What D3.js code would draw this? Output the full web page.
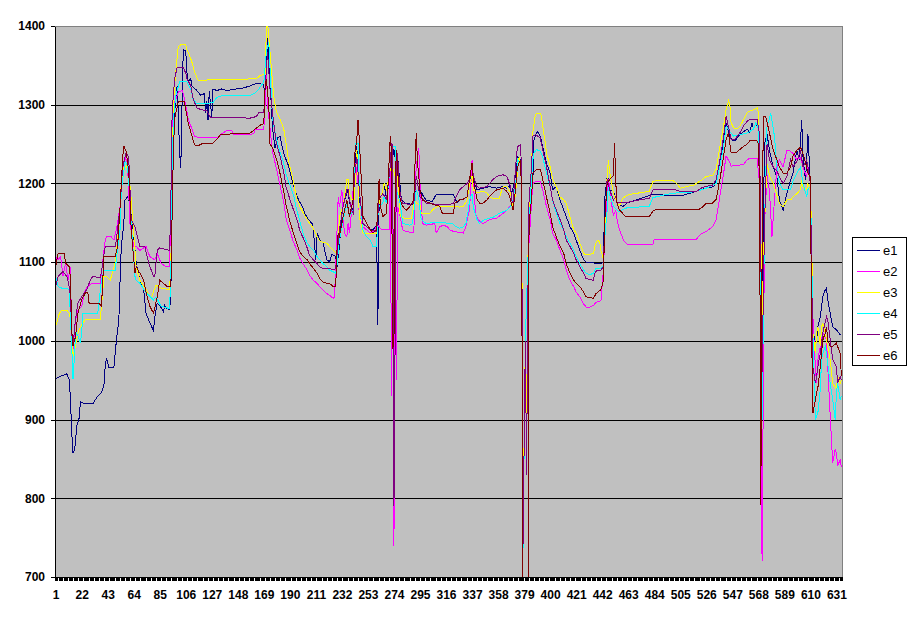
<!DOCTYPE html>
<html>
<head>
<meta charset="utf-8">
<script src="https://cdn.jsdelivr.net/npm/d3@7"></script>
<style>
  body { margin: 0; background: #fff; }
  svg { display: block; font-family: "Liberation Sans", Arial, sans-serif; }
</style>
</head>
<body>
<svg id="chart" width="911" height="623"></svg>
<script>
// category count and tick labels
const categoryCount = 635;
const xLabels = [1, 22, 43, 64, 85, 106, 127, 148, 169, 190, 211, 232, 253, 274, 295, 316,
  337, 358, 379, 400, 421, 442, 463, 484, 505, 526, 547, 568, 589, 610, 631];
const yTicks = [700, 800, 900, 1000, 1100, 1200, 1300, 1400];
const seriesNames = ['e1', 'e2', 'e3', 'e4', 'e5', 'e6'];

// readings: [category, value]
const e1 = [[1,952],[5,955],[10,958],[12,951],[13,925],[14,883],[15,858],[16,860],[17,870],[18,892],[20,902],[21,923],[24,920],[31,920],[33,925],[35,930],[38,934],[40,944],[41,968],[42,978],[44,966],[48,966],[50,1000],[52,1026],[53,1077],[54,1120],[56,1149],[57,1179],[59,1183],[60,1179],[61,1170],[63,1150],[66,1099],[69,1077],[72,1065],[74,1035],[77,1023],[80,1013],[81,1030],[83,1048],[85,1045],[88,1037],[89,1045],[91,1041],[93,1040],
  [94,1060],[95,1200],[97,1290],[99,1324],[100,1290],[101,1240],[102,1220],[103,1300],[104,1370],[106,1368],[107,1340],[108,1329],[110,1333],[111,1324],[115,1318],[118,1312],[121,1314],[122,1290],[123,1305],[124,1280],[125,1318],[126,1300],[127,1285],[128,1320],[131,1318],[135,1320],[139,1318],[147,1320],[152,1321],[158,1324],[163,1327],[166,1327],[169,1325],[170,1299],[171,1337],[172,1385],[174,1330],[176,1270],[178,1245],[180,1258],[182,1260],[184,1245],[186,1234],[189,1222],[191,1209],[194,1192],[197,1179],[200,1171],[202,1162],[205,1154],[208,1149],[209,1141],[210,1120],[211,1103],[212,1137],[214,1128],[217,1124],[218,1115],[220,1103],[222,1100],
  [224,1110],[227,1107],[228,1094],[230,1120],[232,1166],[235,1183],[237,1192],[238,1175],[240,1170],[241,1162],[242,1209],[243,1234],[244,1247],[245,1215],[246,1179],[249,1158],[252,1149],[255,1141],[257,1141],[259,1145],[260,1137],[261,1020],[262,1175],[265,1192],[266,1200],[268,1180],[269,1190],[271,1222],[272,1243],[273,1234],[274,1243],[276,1222],[277,1234],[279,1196],[280,1179],[283,1175],[290,1173],[292,1192],[294,1183],[295,1192],[298,1183],[300,1179],[305,1177],[308,1186],[322,1186],[325,1175],[327,1179],[330,1180],[333,1183],[335,1200],[337,1217],[339,1200],[341,1192],[346,1194],[351,1196],[357,1194],[362,1196],[365,1194],[367,1197],[369,1188],[371,1200],[373,1222],[374,1234],[376,1230],[377,1200],[378,730],[380,1000],[382,1100],[384,1150],[386,1200],[387,1256],[389,1264],[390,1266],[392,1260],[394,1247],[397,1226],[400,1213],[402,1192],[405,1196],[408,1179],[411,1166],[413,1158],[416,1145],[419,1137],[421,1128],[424,1115],[427,1103],[429,1100],[441,1098],[443,1100],[444,1180],[446,1209],[447,1205],[448,1192],[451,1190],[454,1175],[456,1172],[459,1171],[462,1175],[483,1186],[505,1184],[518,1190],[526,1194],[532,1196],[534,1203],[537,1226],[540,1252],[542,1277],[545,1260],[547,1254],[549,1254],[553,1262],[559,1269],[561,1265],[563,1277],[564,1269],[566,1277],[568,1269],[569,1200],[571,930],[572,1150],[573,1250],[575,1263],[577,1242],[580,1221],[583,1208],[585,1179],[588,1166],[591,1187],[594,1204],[596,1213],[599,1242],[601,1230],[603,1280],[604,1234],[606,1204],[607,1230],[608,1263],[610,1200],[611,1077],[612,1018],[614,993],[615,1001],[616,1018],[618,1031],[619,1044],[620,1056],[622,1065],[623,1067],[624,1052],[626,1035],[628,1018],[631,1014],[634,1008],[635,1008]];

const e2 = [[1,1107],[3,1103],[5,1107],[7,1082],[9,1099],[11,1077],[13,1094],[14,997],[15,989],[17,1027],[19,1039],[22,1044],[25,1065],[27,1069],[30,1073],[37,1073],[40,1115],[41,1128],[42,1132],[46,1132],[48,1128],[50,1141],[53,1170],[54,1200],[57,1234],[59,1225],[61,1149],[64,1120],[66,1120],[69,1115],[74,1120],[77,1107],[81,1103],[83,1111],[86,1099],[90,1094],[93,1094],[94,1180],[95,1270],[97,1303],[100,1316],[103,1318],[104,1314],[106,1299],[108,1282],[111,1269],[113,1260],[117,1258],[131,1258],[136,1264],[139,1267],[143,1267],[145,1262],[158,1262],[161,1264],[162,1269],[169,1269],[170,1300],[171,1346],[172,1300],[174,1270],[176,1240],[179,1220],[182,1198],[185,1177],[187,1155],[190,1140],[193,1125],[196,1115],[198,1105],[201,1097],[204,1090],[206,1083],[209,1077],[212,1073],[214,1069],[217,1064],[220,1060],[222,1058],[225,1054],[226,1056],[227,1094],[228,1137],[229,1183],[230,1170],[232,1192],[233,1158],[234,1137],[236,1132],[237,1150],[238,1137],[239,1150],[241,1192],[243,1226],[245,1200],[246,1158],[249,1145],[252,1141],[255,1137],[259,1140],[260,1150],[262,1145],[264,1141],[270,1141],[271,1234],[272,930],[273,1200],[274,740],[275,1180],[276,950],[277,1170],[279,1158],[281,1141],[284,1139],[290,1137],[291,1192],[292,1222],[294,1245],[295,1200],[297,1149],[300,1147],[307,1149],[308,1137],[311,1145],[314,1147],[317,1145],[319,1141],[322,1139],[330,1137],[332,1145],[334,1160],[335,1166],[337,1230],[338,1200],[340,1160],[343,1152],[346,1149],[349,1152],[351,1154],[357,1156],[362,1162],[365,1166],[370,1175],[371,1190],[373,1209],[374,1222],[376,1230],[377,1210],[378,740],[380,1000],[382,1100],[384,1150],[386,1200],[389,1203],[392,1202],[394,1192],[397,1171],[400,1154],[402,1137],[405,1128],[408,1115],[411,1103],[413,1090],[416,1077],[419,1069],[421,1062],[424,1056],[427,1047],[429,1043],[432,1043],[435,1045],[437,1049],[441,1051],[443,1090],[444,1130],[446,1188],[447,1205],[448,1196],[449,1180],[451,1160],[453,1166],[454,1154],[456,1141],[458,1133],[459,1128],[462,1123],[483,1123],[484,1129],[518,1129],[521,1135],[526,1139],[531,1145],[534,1154],[537,1184],[540,1213],[542,1235],[545,1226],[546,1222],[556,1224],[559,1230],[561,1232],[567,1232],[569,1200],[571,720],[573,1150],[575,1210],[577,1190],[579,1132],[581,1179],[583,1221],[585,1230],[588,1221],[591,1242],[593,1242],[596,1238],[599,1230],[602,1233],[604,1221],[607,1208],[608,1221],[610,1200],[611,1115],[612,1031],[614,967],[615,946],[616,976],[618,993],[620,1010],[623,1001],[624,967],[626,904],[627,874],[628,845],[630,862],[631,858],[632,841],[634,849],[635,840]];

const e3 = [[1,1018],[4,1035],[6,1039],[10,1039],[12,1035],[13,1027],[15,980],[17,993],[19,1010],[21,1018],[25,1027],[37,1027],[38,1044],[40,1082],[42,1082],[45,1077],[46,1082],[49,1099],[50,1111],[53,1162],[54,1204],[56,1220],[58,1222],[60,1215],[62,1180],[66,1094],[69,1077],[74,1065],[78,1054],[82,1071],[84,1069],[86,1067],[93,1065],[94,1100],[95,1200],[96,1300],[97,1324],[99,1359],[100,1374],[103,1377],[106,1376],[107,1370],[109,1363],[111,1354],[113,1342],[116,1331],[134,1332],[144,1332],[163,1333],[166,1337],[170,1339],[171,1393],[172,1405],[174,1367],[177,1310],[179,1292],[182,1282],[185,1270],[187,1250],[189,1228],[192,1209],[194,1192],[196,1179],[198,1171],[201,1162],[204,1154],[206,1149],[209,1143],[212,1132],[214,1127],[217,1125],[220,1124],[222,1120],[225,1115],[228,1110],[229,1130],[230,1158],[233,1171],[236,1205],[237,1205],[238,1187],[240,1180],[242,1180],[244,1243],[245,1210],[246,1158],[248,1145],[249,1137],[260,1137],[261,1160],[262,1175],[265,1192],[266,1200],[268,1192],[271,1217],[272,1234],[273,1220],[275,1209],[276,1222],[279,1158],[282,1156],[288,1156],[290,1171],[291,1184],[292,1175],[295,1173],[296,1162],[303,1162],[306,1168],[310,1171],[327,1170],[330,1171],[333,1179],[335,1200],[337,1209],[338,1192],[341,1188],[346,1190],[349,1188],[351,1183],[354,1181],[359,1181],[361,1192],[362,1196],[365,1196],[368,1188],[370,1171],[372,1185],[374,1222],[375,1234],[377,1220],[378,745],[380,1000],[381,880],[382,1100],[383,1158],[385,1222],[386,1264],[388,1286],[389,1289],[392,1289],[393,1285],[394,1273],[396,1252],[397,1239],[400,1222],[402,1205],[405,1196],[408,1183],[411,1179],[413,1175],[416,1158],[419,1141],[421,1137],[424,1124],[427,1111],[429,1109],[435,1111],[436,1120],[438,1128],[440,1126],[441,1115],[443,1103],[444,1140],[446,1209],[447,1230],[448,1215],[451,1188],[454,1175],[456,1172],[459,1182],[464,1186],[472,1188],[480,1190],[483,1203],[499,1204],[502,1200],[505,1194],[510,1196],[516,1198],[518,1200],[523,1205],[526,1209],[531,1210],[534,1218],[537,1247],[540,1273],[542,1294],[544,1305],[545,1300],[546,1277],[548,1271],[550,1269],[553,1272],[556,1281],[559,1290],[561,1292],[565,1294],[567,1296],[568,1290],[569,1247],[571,1030],[573,1150],[575,1225],[577,1210],[580,1200],[582,1190],[585,1175],[588,1170],[591,1179],[594,1179],[596,1183],[599,1187],[602,1192],[603,1204],[604,1196],[607,1192],[608,1200],[610,1192],[611,1137],[612,1010],[614,984],[615,1010],[616,1018],[618,993],[619,1018],[620,1022],[622,1010],[623,1001],[626,976],[628,946],[631,938],[632,955],[634,946],[635,950]];

const e4 = [[1,1082],[3,1069],[6,1067],[10,1067],[12,1065],[13,1030],[14,993],[15,951],[16,976],[17,1006],[18,1010],[19,1006],[21,997],[22,1010],[23,1035],[35,1035],[38,1077],[40,1090],[49,1090],[50,1103],[53,1141],[54,1192],[56,1215],[57,1228],[59,1222],[61,1180],[62,1149],[65,1082],[66,1077],[69,1073],[74,1061],[80,1052],[82,1056],[86,1044],[93,1041],[94,1090],[95,1200],[96,1282],[98,1312],[101,1329],[107,1329],[110,1320],[112,1307],[115,1301],[123,1301],[128,1303],[131,1309],[136,1312],[158,1312],[162,1315],[165,1320],[169,1329],[171,1367],[173,1380],[174,1346],[176,1282],[179,1258],[182,1240],[185,1226],[187,1211],[190,1198],[193,1185],[195,1170],[198,1152],[201,1135],[204,1124],[206,1120],[209,1115],[212,1107],[214,1103],[217,1098],[220,1094],[222,1090],[227,1086],[228,1096],[230,1128],[233,1154],[236,1175],[238,1158],[241,1166],[242,1226],[243,1251],[245,1251],[246,1192],[248,1158],[249,1141],[252,1132],[255,1128],[257,1120],[260,1120],[261,1158],[262,1171],[265,1175],[266,1183],[268,1175],[271,1222],[273,1247],[275,1247],[276,1192],[279,1175],[281,1149],[287,1147],[289,1149],[292,1192],[294,1183],[295,1166],[296,1154],[300,1149],[308,1151],[321,1149],[324,1145],[327,1143],[330,1145],[332,1149],[334,1166],[335,1179],[337,1187],[338,1170],[341,1154],[343,1149],[346,1153],[351,1156],[354,1157],[359,1162],[362,1164],[365,1166],[368,1171],[370,1179],[373,1209],[374,1230],[376,1225],[377,1200],[378,720],[380,1000],[382,1100],[384,1180],[386,1230],[387,1239],[389,1243],[392,1241],[394,1234],[397,1213],[400,1196],[402,1179],[405,1162],[408,1149],[411,1141],[413,1132],[416,1124],[419,1115],[421,1107],[424,1098],[427,1090],[429,1086],[432,1084],[435,1086],[437,1092],[441,1092],[443,1096],[444,1130],[446,1166],[447,1200],[448,1185],[451,1171],[454,1166],[456,1164],[459,1167],[462,1169],[480,1171],[483,1182],[494,1186],[502,1188],[510,1188],[518,1190],[526,1194],[534,1200],[537,1222],[540,1247],[542,1273],[545,1266],[548,1260],[553,1262],[559,1264],[564,1269],[566,1277],[568,1270],[569,1230],[571,900],[573,1150],[575,1272],[578,1289],[581,1260],[583,1221],[585,1200],[588,1192],[594,1192],[596,1203],[599,1213],[602,1221],[604,1200],[607,1183],[608,1192],[610,1196],[611,1115],[612,1010],[614,900],[615,904],[616,908],[618,938],[619,976],[620,984],[622,993],[623,984],[626,946],[628,925],[630,900],[631,934],[632,946],[634,925],[635,930]];

const e5 = [[1,1069],[3,1082],[7,1088],[10,1082],[12,1069],[13,1056],[14,1010],[15,993],[17,1027],[19,1048],[22,1056],[26,1065],[29,1077],[31,1082],[37,1080],[38,1088],[41,1120],[49,1120],[50,1128],[53,1170],[55,1220],[58,1240],[60,1232],[62,1154],[65,1145],[69,1120],[73,1120],[76,1099],[80,1082],[81,1082],[83,1115],[85,1118],[93,1115],[94,1180],[95,1290],[97,1333],[99,1347],[104,1347],[106,1340],[107,1333],[110,1324],[112,1307],[115,1296],[118,1294],[123,1292],[126,1284],[131,1284],[158,1283],[163,1285],[165,1290],[169,1290],[170,1320],[172,1367],[174,1320],[176,1290],[179,1252],[182,1235],[185,1215],[187,1195],[190,1180],[193,1166],[196,1153],[198,1140],[201,1130],[204,1118],[206,1108],[209,1103],[212,1098],[214,1094],[217,1092],[222,1092],[225,1090],[227,1092],[230,1141],[233,1171],[236,1192],[237,1192],[238,1180],[240,1165],[241,1162],[242,1205],[244,1234],[245,1215],[246,1192],[248,1162],[249,1149],[252,1145],[255,1141],[260,1139],[261,1160],[262,1180],[265,1187],[268,1180],[271,1222],[272,1251],[273,1247],[274,790],[276,1243],[277,1234],[279,1187],[281,1175],[287,1173],[290,1175],[291,1192],[292,1209],[295,1183],[298,1179],[300,1175],[311,1173],[319,1173],[322,1175],[324,1183],[327,1192],[330,1196],[333,1200],[335,1205],[337,1226],[338,1210],[341,1196],[343,1194],[349,1196],[351,1200],[354,1205],[357,1209],[362,1211],[365,1209],[366,1205],[368,1196],[369,1179],[370,1175],[373,1239],[374,1247],[376,1249],[377,1220],[378,725],[380,1000],[381,830],[382,1050],[383,1180],[385,1220],[386,1260],[388,1262],[392,1258],[394,1243],[397,1222],[400,1196],[402,1179],[405,1166],[408,1154],[411,1141],[413,1128],[416,1120],[419,1111],[421,1103],[424,1094],[427,1086],[429,1079],[435,1077],[436,1086],[438,1090],[441,1090],[443,1094],[444,1150],[446,1205],[448,1192],[451,1179],[453,1183],[454,1175],[462,1176],[472,1179],[480,1181],[483,1192],[501,1192],[505,1190],[518,1190],[523,1195],[531,1198],[534,1205],[537,1230],[540,1260],[542,1286],[545,1264],[546,1256],[549,1256],[553,1264],[556,1273],[559,1279],[561,1281],[567,1281],[569,1262],[571,960],[573,1150],[575,1250],[577,1230],[580,1221],[583,1216],[585,1208],[588,1200],[591,1209],[594,1230],[596,1221],[599,1228],[602,1242],[604,1221],[607,1230],[608,1221],[610,1200],[611,1094],[612,967],[614,946],[615,955],[616,967],[618,984],[620,1010],[623,1031],[624,1027],[626,1001],[628,976],[631,967],[632,946],[634,955],[635,950]];

const e6 = [[1,1094],[3,1111],[8,1111],[9,1099],[12,1094],[13,1080],[14,1014],[15,993],[17,1005],[19,1035],[22,1052],[25,1061],[27,1061],[28,1048],[36,1048],[38,1044],[40,1107],[49,1107],[51,1120],[53,1170],[55,1230],[56,1248],[58,1240],[60,1215],[62,1141],[65,1086],[66,1094],[69,1086],[72,1077],[74,1061],[77,1044],[80,1035],[83,1056],[85,1077],[88,1073],[91,1069],[94,1069],[95,1161],[96,1239],[97,1282],[100,1304],[105,1304],[106,1294],[108,1277],[111,1260],[113,1249],[116,1248],[120,1251],[128,1251],[131,1256],[134,1262],[144,1263],[158,1264],[162,1269],[166,1274],[169,1276],[170,1320],[171,1333],[173,1300],[174,1250],[176,1245],[179,1232],[182,1213],[185,1190],[187,1172],[190,1152],[193,1136],[196,1122],[198,1113],[201,1107],[204,1103],[206,1098],[209,1092],[212,1086],[214,1079],[217,1074],[222,1073],[225,1069],[227,1069],[228,1115],[229,1137],[230,1133],[232,1149],[233,1158],[236,1179],[238,1158],[241,1179],[242,1234],[244,1256],[245,1281],[246,1256],[247,1226],[248,1192],[249,1158],[252,1149],[255,1141],[257,1137],[260,1141],[261,1171],[262,1205],[263,1171],[265,1158],[268,1162],[269,1192],[271,1260],[272,1240],[273,990],[274,1000],[275,1200],[276,1243],[277,1215],[279,1179],[281,1171],[284,1166],[287,1171],[290,1179],[291,1226],[292,1264],[293,1226],[295,1192],[297,1179],[300,1177],[306,1173],[311,1171],[313,1162],[322,1162],[323,1175],[327,1179],[330,1180],[333,1183],[335,1205],[337,1226],[338,1205],[341,1180],[343,1175],[346,1175],[349,1179],[351,1183],[354,1188],[357,1192],[362,1194],[365,1190],[367,1185],[368,1179],[370,1166],[372,1190],[373,1213],[374,1222],[376,1230],[377,1190],[378,600],[382,600],[383,1150],[385,1180],[386,1213],[389,1218],[392,1218],[393,1213],[394,1205],[397,1183],[400,1162],[402,1145],[405,1132],[408,1120],[411,1111],[413,1098],[416,1086],[419,1077],[421,1073],[424,1069],[427,1062],[429,1056],[435,1054],[437,1060],[441,1065],[443,1077],[444,1150],[446,1200],[448,1205],[451,1210],[452,1251],[453,1200],[454,1175],[456,1166],[461,1158],[480,1158],[483,1165],[486,1167],[520,1167],[523,1170],[526,1175],[531,1175],[534,1180],[537,1205],[540,1235],[542,1256],[544,1264],[545,1250],[546,1239],[550,1239],[553,1243],[556,1247],[559,1250],[561,1254],[567,1254],[568,1250],[569,1200],[570,791],[571,1100],[572,1285],[574,1285],[577,1264],[580,1242],[583,1230],[585,1221],[588,1213],[591,1213],[594,1221],[596,1235],[599,1242],[602,1246],[604,1238],[607,1221],[608,1213],[610,1208],[611,1010],[612,908],[614,925],[615,934],[616,940],[618,967],[619,985],[620,1001],[622,1010],[623,1018],[624,1001],[626,993],[628,993],[631,997],[634,984],[635,955]];

const seriesData = [e1, e2, e3, e4, e5, e6];
const colors = ['#000080', '#ff00ff', '#ffff00', '#00ffff', '#800080', '#800000'];

const svg = d3.select('#chart');
const plot = { left: 55, right: 842, top: 26, bottom: 577 };

const x = d3.scaleLinear().domain([0.5, categoryCount + 0.5]).range([plot.left, plot.right]);
const y = d3.scaleLinear().domain([700, 1400]).range([plot.bottom, plot.top]);

// plot background
svg.append('rect')
  .attr('x', plot.left + 0.5).attr('y', plot.top + 0.5)
  .attr('width', plot.right - plot.left).attr('height', plot.bottom - plot.top)
  .attr('fill', '#c0c0c0').attr('stroke', '#808080')
  .attr('shape-rendering', 'crispEdges');

// gridlines
svg.append('g').selectAll('line')
  .data(yTicks.filter(v => v > 700 && v < 1400))
  .join('line')
  .attr('x1', plot.left).attr('x2', plot.right)
  .attr('y1', d => Math.round(y(d)) + 0.5).attr('y2', d => Math.round(y(d)) + 0.5)
  .attr('stroke', '#000').attr('shape-rendering', 'crispEdges');

svg.append('defs').append('clipPath').attr('id', 'plot-clip')
  .append('rect')
  .attr('x', plot.left).attr('y', plot.top)
  .attr('width', plot.right - plot.left).attr('height', plot.bottom - plot.top);

const line = d3.line().x(d => x(d[0])).y(d => y(d[1]));

svg.append('g').attr('clip-path', 'url(#plot-clip)')
  .selectAll('path')
  .data(seriesData)
  .join('path')
  .attr('d', d => line(d3.sort(d, p => p[0])))
  .attr('fill', 'none')
  .attr('stroke', (d, i) => colors[i])
  .attr('stroke-width', 1)
  .attr('stroke-linejoin', 'miter')
  .attr('shape-rendering', 'crispEdges');

// y axis
const yAxis = svg.append('g')
  .attr('transform', `translate(${plot.left},0)`)
  .call(d3.axisLeft(y).tickValues(yTicks).tickSize(4).tickSizeOuter(0).tickPadding(6).tickFormat(d3.format('d')));
yAxis.selectAll('text')
  .attr('font-size', 12).attr('font-weight', 'bold')
  .attr('font-family', '"Liberation Sans", Arial, sans-serif').attr('fill', '#000');
yAxis.selectAll('line, path').attr('stroke', '#000').attr('shape-rendering', 'crispEdges');

// x axis: tick marks on category boundaries
const boundaries = d3.range(0.5, categoryCount + 1, 1);
const xTicks = svg.append('g')
  .attr('transform', `translate(0,${plot.bottom})`)
  .call(d3.axisBottom(x).tickValues(boundaries).tickSize(4).tickSizeOuter(0).tickFormat(''));
xTicks.selectAll('line, path').attr('stroke', '#000').attr('shape-rendering', 'crispEdges');

// x axis labels
const xAxis = svg.append('g')
  .attr('transform', `translate(0,${plot.bottom})`)
  .call(d3.axisBottom(x).tickValues(xLabels).tickSize(0).tickPadding(13).tickFormat(d3.format('d')));
xAxis.select('.domain').remove();
xAxis.selectAll('text')
  .attr('font-size', 12).attr('font-weight', 'bold')
  .attr('font-family', '"Liberation Sans", Arial, sans-serif').attr('fill', '#000');

// legend
const legend = svg.append('g').attr('transform', 'translate(852,237)');
legend.append('rect')
  .attr('x', 0.5).attr('y', 0.5).attr('width', 54).attr('height', 128)
  .attr('fill', '#fff').attr('stroke', '#000').attr('shape-rendering', 'crispEdges');
const item = legend.selectAll('g.item')
  .data(seriesNames)
  .join('g')
  .attr('class', 'item')
  .attr('transform', (d, i) => `translate(0,${13 + i * 21})`);
item.append('line')
  .attr('x1', 5).attr('x2', 28).attr('y1', 0.5).attr('y2', 0.5)
  .attr('stroke', (d, i) => colors[i]).attr('stroke-width', 1)
  .attr('shape-rendering', 'crispEdges');
item.append('text')
  .attr('x', 31).attr('y', 5)
  .attr('font-size', 13).attr('fill', '#000')
  .text(d => d);
</script>
</body>
</html>
